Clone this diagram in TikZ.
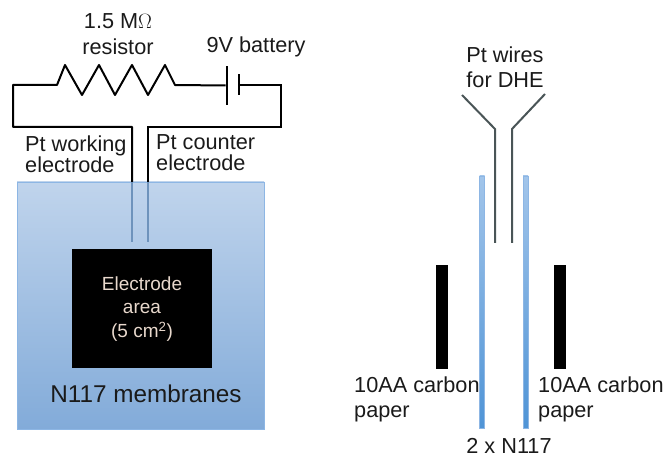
\documentclass[tikz,border=0pt]{standalone}
\usepackage{fontspec}
\setmainfont{Liberation Sans}
\usetikzlibrary{calc,positioning}
\definecolor{labelblack}{HTML}{1A1A1A}
\definecolor{wiregray}{HTML}{4A5557}
\definecolor{areatext}{HTML}{E8D8CC}
\definecolor{inboxwire}{HTML}{6E93BC}
\definecolor{celltop}{HTML}{C0D4EC}
\definecolor{cellbottom}{HTML}{82ABD9}
\definecolor{cellline}{HTML}{8DB6E4}
\definecolor{membranetop}{HTML}{A2C5EA}
\definecolor{membranebottom}{HTML}{4F94D6}
\tikzstyle{label} = [inner sep=0pt, text=labelblack, align=left, font=\fontsize{21.7}{21}\selectfont]
\tikzstyle{circuit} = [line width=2pt, black]
\tikzstyle{platewire} = [line width=2pt, wiregray]
\tikzstyle{plate} = [fill=black, inner sep=0pt, minimum width=2.4pt]
\tikzstyle{carbon} = [fill=black, inner sep=0pt, minimum width=11.5pt, minimum height=104pt]
\tikzstyle{membrane} = [draw=cellline, line width=0.8pt, inner sep=0pt, minimum width=5pt, minimum height=252pt, top color=membranetop, bottom color=membranebottom]
\tikzstyle{cell} = [draw=cellline, line width=0.8pt, inner sep=0pt, minimum width=247pt, minimum height=247pt, top color=celltop, bottom color=cellbottom]

\begin{document}
\begin{tikzpicture}[x=1pt,y=-1pt]
\useasboundingbox (0,0) rectangle (665,457);

\node (cell) [cell] at (140.5,305.5) {};
\node (electrode) [fill=black, inner sep=0pt, minimum width=140pt, minimum height=119pt] at (142,308.5) {};
\node at (electrode) [yshift=-0.5pt][align=center, inner sep=0pt, text=areatext, font=\fontsize{19}{23.5}\selectfont] {Electrode\\area\\(5 cm\textsuperscript{2})};
\node (cellname) at (146,394) [label, font=\fontsize{24.3}{24}\selectfont] {N117 membranes};

\node (resistorlabel) at (118,34) [label, align=center, font=\fontsize{21.7}{26}\selectfont] {1.5 M$\Omega$\\resistor};
\node (batterylabel) at (256,47) [label] {9V battery};
\node (workinglabel) [anchor=west] at (25,154) [label] {Pt working\\electrode};
\node (counterlabel) [anchor=west] at (156,153) [label] {Pt counter\\electrode};

\node (batterylong) [plate, minimum height=39pt] at (227,85.5) {};
\node (batteryshort) [plate, minimum height=21pt] at (239,85) {};

\coordinate (resistorin) at (57,85);
\coordinate (resistorout) at (175,85);
\coordinate (leftcorner) at (13,85);
\coordinate (leftdrop) at (13,127);
\coordinate (rightcorner) at (281,85);
\coordinate (rightdrop) at (281,127);
\coordinate (workingtop) at (132,127);
\coordinate (countertop) at (148,127);
\coordinate (workingin) at (132,182);
\coordinate (counterin) at (148,182);
\coordinate (workingend) at (132,242);
\coordinate (counterend) at (148,242);

\draw [circuit, line join=round] (workingin) -- (workingtop) -- (leftdrop) -- (leftcorner) -- (resistorin) -- (65,65) -- (82,95) -- (99,65) -- (115,95) -- (132,65) -- (148,95) -- (165,65) -- (resistorout) -- (batterylong.west);
\draw [circuit] (batteryshort.east) -- (rightcorner) -- (rightdrop) -- (countertop) -- (counterin);
\draw [line width=2pt, inboxwire] (workingin) -- (workingend);
\draw [line width=2pt, inboxwire] (counterin) -- (counterend);

\node (dhelabel) at (505,67.5) [label, align=center, font=\fontsize{21.7}{25}\selectfont] {Pt wires\\for DHE};

\node (membraneleft) [membrane] at (482,302) {};
\node (membraneright) [membrane] at (525.5,302) {};

\coordinate (dheleftend) at (462,95);
\coordinate (dheleftbend) at (495,129);
\coordinate (dheleftfoot) at (495,243);
\coordinate (dherightend) at (545,94);
\coordinate (dherightbend) at (512,129);
\coordinate (dherightfoot) at (512,243);
\draw [platewire] (dheleftend) -- (dheleftbend) -- (dheleftfoot);
\draw [platewire] (dherightend) -- (dherightbend) -- (dherightfoot);

\node (carbonleft) [carbon] at (441.8,317) {};
\node (carbonright) [carbon] at (560,317) {};

\node (carbonleftlabel) [anchor=west] at (354,399.5) [label, font=\fontsize{21.7}{25}\selectfont] {10AA carbon\\paper};
\node (carbonrightlabel) [anchor=west] at (538,399.5) [label, font=\fontsize{21.7}{25}\selectfont] {10AA carbon\\paper};
\node (nafionlabel) at (509,446) [label] {2 x N117};
\end{tikzpicture}
\end{document}
